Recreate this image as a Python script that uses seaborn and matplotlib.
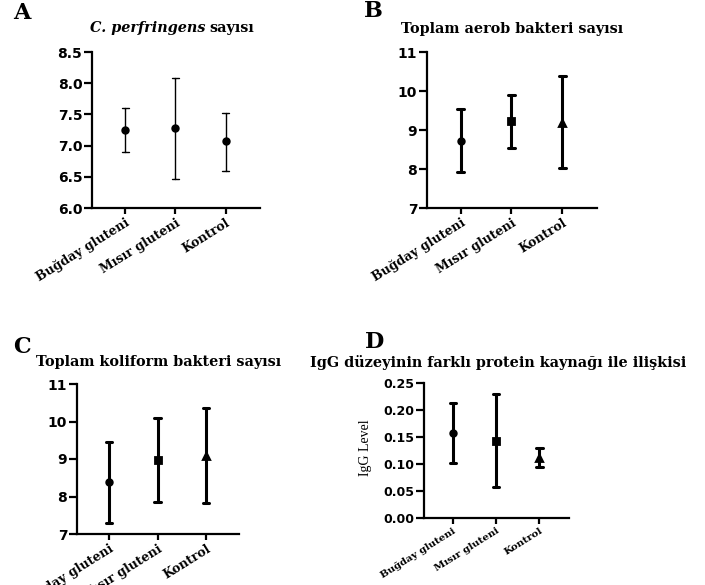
import seaborn as sns
import matplotlib.pyplot as plt
import pandas as pd

cats = ["Buğday gluteni", "Mısır gluteni", "Kontrol"]

# A - C. perfringens
a_mean = [7.25, 7.28, 7.07]
a_low = [6.90, 6.46, 6.60]
a_high = [7.60, 8.08, 7.53]

# B - toplam aerob
b_mean = [8.72, 9.22, 9.18]
b_low = [7.92, 8.55, 8.02]
b_high = [9.53, 9.90, 10.38]

# C - toplam koliform
c_mean = [8.38, 8.97, 9.07]
c_low = [7.30, 7.85, 7.82]
c_high = [9.45, 10.10, 10.37]

# D - IgG
d_mean = [0.157, 0.143, 0.111]
d_low = [0.101, 0.058, 0.095]
d_high = [0.213, 0.229, 0.130]

sns.set_style("ticks")
plt.rcParams["font.family"] = ["DejaVu Sans"]
plt.rcParams["text.color"] = "black"
plt.rcParams["xtick.color"] = "black"
plt.rcParams["ytick.color"] = "black"
plt.rcParams["axes.edgecolor"] = "black"

W, H = 705, 585
fig = plt.figure(figsize=(W / 100, H / 100), dpi=100)


def long_df(mean, low, high):
    # lo / mean / hi per group -> median = mean, full range = error bar
    rows = []
    for c, m, lo, hi in zip(cats, mean, low, high):
        for v in (lo, m, hi):
            rows.append({"grup": c, "deger": v})
    return pd.DataFrame(rows)


def panel(px, mean, low, high, ylim, yticks, fmt, markers, lw, yfs=10, xfs=9):
    x0, ytop, x1, ybot = px
    ax = fig.add_axes([x0 / W, 1 - ybot / H, (x1 - x0) / W, (ybot - ytop) / H])
    df = long_df(mean, low, high)
    sns.pointplot(data=df, x="grup", y="deger", hue="grup", order=cats, hue_order=cats,
                  palette=["black"] * 3, markers=markers, linestyle="none",
                  estimator="median", errorbar=("pi", 100), capsize=0.14,
                  err_kws={"linewidth": lw}, markersize=4, legend=False, ax=ax)
    ax.set_xlim(-0.66, 2.68)
    ax.set_ylim(*ylim)
    ax.set_yticks(yticks)
    ax.set_yticklabels([fmt.format(t) for t in yticks], fontsize=yfs, fontweight="bold")
    ax.set_xticks(range(3))
    ax.set_xticklabels(cats, rotation=32, ha="right", rotation_mode="anchor",
                       fontsize=xfs, fontweight="bold", family="DejaVu Serif")
    ax.set_xlabel("")
    ax.set_ylabel("")
    for s in ["top", "right"]:
        ax.spines[s].set_visible(False)
    for s in ["left", "bottom"]:
        ax.spines[s].set_linewidth(1.6)
    ax.tick_params(axis="y", width=1.6, length=6, pad=1)
    ax.tick_params(axis="x", width=1.6, length=4, pad=2)
    ax.patch.set_alpha(0)
    return ax


panel((92, 52, 260, 208), a_mean, a_low, a_high, (6.0, 8.5),
      [6.0, 6.5, 7.0, 7.5, 8.0, 8.5], "{:.1f}", ["o", "o", "o"], 1.0)
panel((427, 52, 597, 208), b_mean, b_low, b_high, (7, 11),
      [7, 8, 9, 10, 11], "{:.0f}", ["o", "s", "^"], 2.2)
panel((77, 384, 239, 534), c_mean, c_low, c_high, (7, 11),
      [7, 8, 9, 10, 11], "{:.0f}", ["o", "s", "^"], 2.2)
panel((424, 383, 569, 518), d_mean, d_low, d_high, (0, 0.25),
      [0.0, 0.05, 0.10, 0.15, 0.20, 0.25], "{:.2f}", ["o", "s", "^"], 2.2,
      yfs=9, xfs=7.3)
fig.text(366 / W, 1 - 448 / H, "IgG Level", rotation=90, ha="center", va="center",
         fontsize=10, family="Liberation Serif")

# panel letters
for x, y, t in [(22, 13, "A"), (373, 11, "B"), (22, 347, "C"), (375, 342, "D")]:
    fig.text(x / W, 1 - y / H, t, ha="center", va="center", fontsize=16,
             fontweight="bold", family="DejaVu Serif")

# titles
tkw = dict(va="center", fontsize=10.4, fontweight="bold", family="DejaVu Serif")
fig.text(206 / W, 1 - 28 / H, "C. perfringens", ha="right", style="italic", **tkw)
fig.text(209 / W, 1 - 28 / H, "sayısı", ha="left", **tkw)
fig.text(512 / W, 1 - 29 / H, "Toplam aerob bakteri sayısı", ha="center", **tkw)
fig.text(159 / W, 1 - 362 / H, "Toplam koliform bakteri sayısı", ha="center", **tkw)
fig.text(498 / W, 1 - 363 / H, "IgG düzeyinin farklı protein kaynağı ile ilişkisi", ha="center", **tkw)

fig.savefig("out.png", dpi=100)
